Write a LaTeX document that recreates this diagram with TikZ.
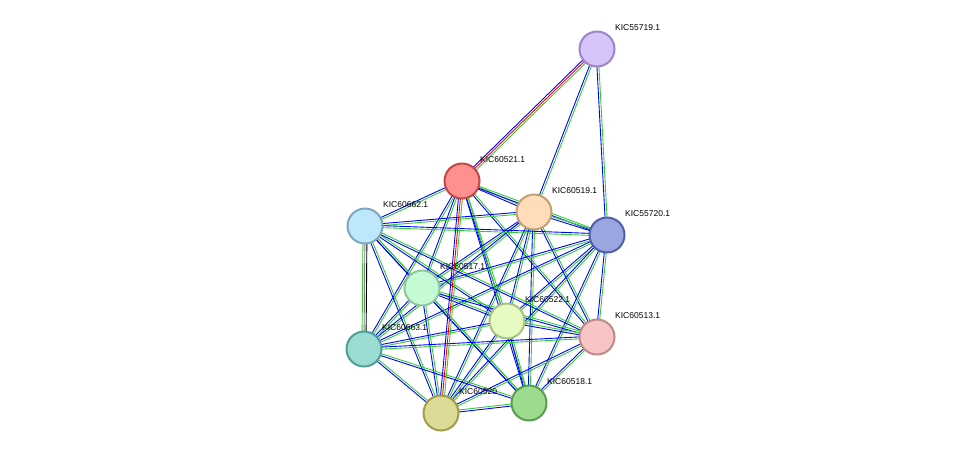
\documentclass[tikz,border=0pt]{standalone}
\usepackage{fontspec}
\setmainfont{Liberation Sans}
\usetikzlibrary{calc}
\begin{document}
\begin{tikzpicture}[x=1pt,y=-1pt,
  nd/.style={circle,minimum size=35pt,inner sep=0pt,line width=2pt},
  lb/.style={font=\fontsize{8.5}{10}\selectfont,anchor=west,inner sep=0pt}]
\useasboundingbox (0,0) rectangle (975,459);
\coordinate (n55719) at (597,49);
\coordinate (n60521) at (462,181);
\coordinate (n60519) at (534,212);
\coordinate (n55720) at (607,235);
\coordinate (n60662) at (365,226);
\coordinate (n60517) at (422,288);
\coordinate (n60522) at (507,321);
\coordinate (n60513) at (597,337);
\coordinate (n60663) at (364,349);
\coordinate (n60520) at (441,413);
\coordinate (n60518) at (529,403);
\newcommand{\gbedge}[2]{%
  \draw[green!75!black!80, line width=0.9pt] ($(#1)!1pt!90:(#2)$) -- ($(#2)!1pt!-90:(#1)$);
  \draw[blue, line width=0.9pt] ($(#1)!-1pt!90:(#2)$) -- ($(#2)!-1pt!-90:(#1)$);}
\foreach \a/\b in {60521/60519,60521/55720,60521/60662,60521/60517,60521/60522,60521/60513,60521/60663,60521/60518,
  60519/55720,60519/60662,60519/60517,60519/60522,60519/60513,60519/60663,60519/60520,60519/60518,
  55720/60662,55720/60517,55720/60522,55720/60513,55720/60663,55720/60520,55720/60518,
  60662/60517,60662/60522,60662/60513,60662/60520,60662/60518,
  60517/60522,60517/60513,60517/60663,60517/60520,60517/60518,
  60522/60513,60522/60663,60522/60520,60522/60518,
  60513/60663,60513/60520,60513/60518,
  60663/60520,60663/60518,60520/60518,
  55719/60519,55719/55720}
  {\gbedge{n\a}{n\b}}
% red + green + blue
\draw[green!75!black!80, line width=0.9pt] ($(n55719)!2pt!90:(n60521)$) -- ($(n60521)!2pt!-90:(n55719)$);
\draw[red, line width=0.9pt] (n55719) -- (n60521);
\draw[blue, line width=0.9pt] ($(n55719)!-2pt!90:(n60521)$) -- ($(n60521)!-2pt!-90:(n55719)$);
\draw[green!75!black!80, line width=0.9pt] ($(n60521)!2pt!90:(n60520)$) -- ($(n60520)!2pt!-90:(n60521)$);
\draw[red, line width=0.9pt] (n60521) -- (n60520);
\draw[blue, line width=0.9pt] ($(n60521)!-2pt!90:(n60520)$) -- ($(n60520)!-2pt!-90:(n60521)$);
% black pair
\draw[black, line width=0.9pt] ($(n60662)!2pt!90:(n60663)$) -- ($(n60663)!2pt!-90:(n60662)$);
\draw[gray, line width=0.9pt] (n60662) -- (n60663);
\draw[green!75!black!80, line width=0.9pt] ($(n60662)!-2pt!90:(n60663)$) -- ($(n60663)!-2pt!-90:(n60662)$);
% nodes
\foreach \n/\f/\d/\t in {55719/D5C5FA/9A85C9/KIC55719.1, 60521/FF9090/C04848/KIC60521.1,
  60519/FFDDBB/C4A070/KIC60519.1, 55720/9BA6E0/5060A8/KIC55720.1,
  60662/BDE7FB/7FA8C0/KIC60662.1, 60517/C4FAD4/8CC89C/KIC60517.1,
  60522/E5FBC2/A8C080/KIC60522.1, 60513/F7C5C5/C08888/KIC60513.1,
  60663/9ADCD4/50A098/KIC60663.1, 60520/DCDA94/A09C50/KIC60520, 60518/9DDB8F/5C9C50/KIC60518.1}
{
  \definecolor{fc}{HTML}{\f}\definecolor{dc}{HTML}{\d}
  \node[nd,fill=fc,draw=dc] (c\n) at (n\n) {};
  \node[lb] (l\n) at ($(n\n)+(18,-21)$) {\t};
}
\end{tikzpicture}
\end{document}
